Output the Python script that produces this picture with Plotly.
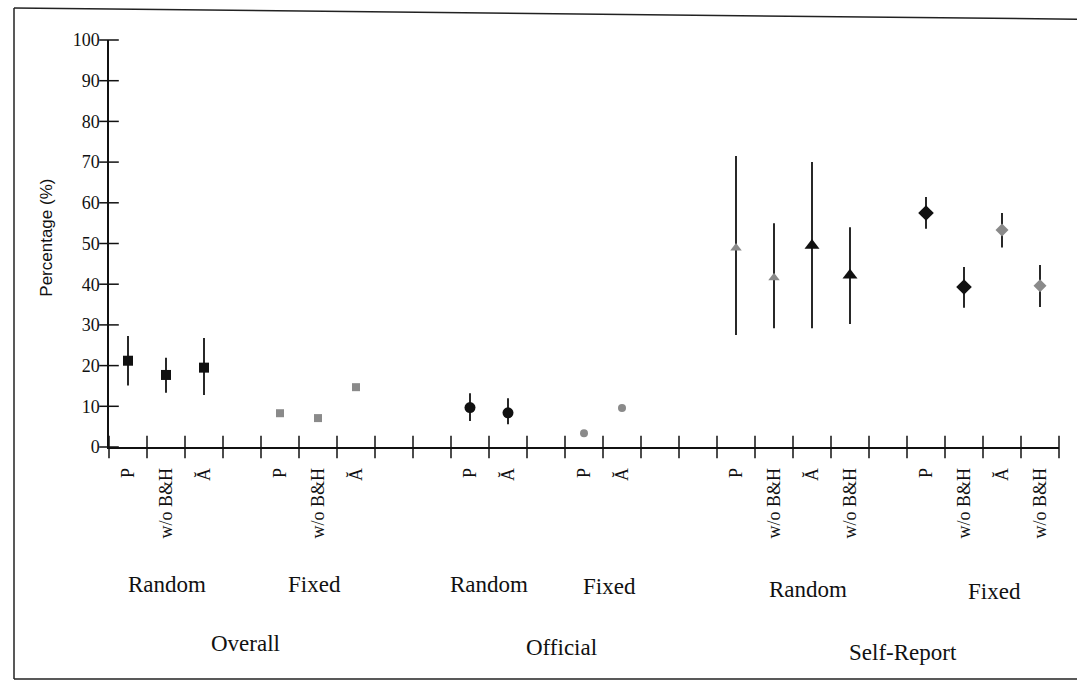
import plotly.graph_objects as go

# ---------------- data ----------------
# category slots along the x axis (empty labels are gaps between groups)
slot_keys = [
    "OR_P", "OR_W", "OR_A", "gap1",
    "OF_P", "OF_W", "OF_A", "gap2", "gap3",
    "FR_P", "FR_A", "gap4",
    "FF_P", "FF_A", "gap5", "gap6",
    "SR_P", "SR_W", "SR_A", "SR_W2", "gap7",
    "SF_P", "SF_W", "SF_A", "SF_W2",
]
slot_labels = [
    "P", "w/o B&H", "Ă", "",
    "P", "w/o B&H", "Ă", "", "",
    "P", "Ă", "",
    "P", "Ă", "", "",
    "P", "w/o B&H", "Ă", "w/o B&H", "",
    "P", "w/o B&H", "Ă", "w/o B&H",
]

# Overall - Random (black squares)
overall_random_keys = ["OR_P", "OR_W", "OR_A"]
overall_random_val = [21.2, 17.7, 19.5]
overall_random_lo = [15.1, 13.3, 12.8]
overall_random_hi = [27.3, 21.9, 26.8]

# Overall - Fixed (grey squares)
overall_fixed_keys = ["OF_P", "OF_W", "OF_A"]
overall_fixed_val = [8.3, 7.1, 14.7]

# Official - Random (black circles)
official_random_keys = ["FR_P", "FR_A"]
official_random_val = [9.7, 8.4]
official_random_lo = [6.4, 5.6]
official_random_hi = [13.2, 12.0]

# Official - Fixed (grey circles)
official_fixed_keys = ["FF_P", "FF_A"]
official_fixed_val = [3.4, 9.6]

# Self-Report - Random, P (grey triangles)
self_random_p_keys = ["SR_P", "SR_W"]
self_random_p_val = [48.9, 41.6]
self_random_p_lo = [27.5, 29.2]
self_random_p_hi = [71.5, 55.0]

# Self-Report - Random, A (black triangles)
self_random_a_keys = ["SR_A", "SR_W2"]
self_random_a_val = [49.5, 42.2]
self_random_a_lo = [29.2, 30.2]
self_random_a_hi = [70.0, 54.0]

# Self-Report - Fixed, P (black diamonds)
self_fixed_p_keys = ["SF_P", "SF_W"]
self_fixed_p_val = [57.5, 39.3]
self_fixed_p_lo = [53.6, 34.2]
self_fixed_p_hi = [61.4, 44.2]

# Self-Report - Fixed, A (grey diamonds)
self_fixed_a_keys = ["SF_A", "SF_W2"]
self_fixed_a_val = [53.3, 39.6]
self_fixed_a_lo = [49.0, 34.4]
self_fixed_a_hi = [57.5, 44.7]

y_ticks = [0, 10, 20, 30, 40, 50, 60, 70, 80, 90, 100]

level1_labels = ["Random", "Fixed", "Random", "Fixed", "Random", "Fixed"]
level2_labels = ["Overall", "Official", "Self-Report"]

# ---------------- layout helpers ----------------
SERIF = "Liberation Serif"
SANS = "Liberation Sans"
BLACK = "#111111"
GREY = "#8a8a8a"
n_slots = len(slot_keys)

# label placement (axis units along x, paper units along y)
level1_x = [1.53, 5.42, 10.0, 13.16, 18.4, 23.3]
level1_y = [-0.338, -0.338, -0.338, -0.343, -0.35, -0.356]
level2_x = [3.6, 11.9, 20.9]
level2_y = [-0.482, -0.492, -0.506]


def xpos(keys):
    return [slot_keys.index(k) + 0.5 for k in keys]


def err(val, lo, hi):
    return dict(type="data", symmetric=False,
                array=[h - v for v, h in zip(val, hi)],
                arrayminus=[v - l for v, l in zip(val, lo)],
                color=BLACK, thickness=1.8, width=0)


fig = go.Figure()


def add(keys, val, symbol, color, size, lo=None, hi=None):
    kw = {}
    if lo is not None:
        kw["error_y"] = err(val, lo, hi)
    fig.add_trace(go.Scatter(
        x=xpos(keys), y=val, mode="markers",
        marker=dict(symbol=symbol, color=color, size=size,
                    line=dict(width=0)),
        showlegend=False, cliponaxis=False, **kw))


add(overall_random_keys, overall_random_val, "square", BLACK, 10,
    overall_random_lo, overall_random_hi)
add(overall_fixed_keys, overall_fixed_val, "square", GREY, 8)
add(official_random_keys, official_random_val, "circle", BLACK, 11,
    official_random_lo, official_random_hi)
add(official_fixed_keys, official_fixed_val, "circle", GREY, 8)
add(self_random_p_keys, self_random_p_val, "triangle-up", GREY, 10,
    self_random_p_lo, self_random_p_hi)
add(self_random_a_keys, self_random_a_val, "triangle-up", BLACK, 13,
    self_random_a_lo, self_random_a_hi)
add(self_fixed_p_keys, self_fixed_p_val, "diamond", BLACK, 12,
    self_fixed_p_lo, self_fixed_p_hi)
add(self_fixed_a_keys, self_fixed_a_val, "diamond", GREY, 10,
    self_fixed_a_lo, self_fixed_a_hi)

# cross-shaped tick marks on both axes
boundaries = list(range(n_slots + 1))
fig.add_trace(go.Scatter(
    x=boundaries, y=[0] * len(boundaries), mode="markers",
    marker=dict(symbol="line-ns", size=16, color=BLACK,
                line=dict(width=1.5, color=BLACK)),
    showlegend=False, cliponaxis=False, hoverinfo="skip"))
fig.add_trace(go.Scatter(
    x=[0] * len(y_ticks), y=y_ticks, mode="markers",
    marker=dict(symbol="line-ew", size=14, color=BLACK,
                line=dict(width=1.5, color=BLACK)),
    showlegend=False, cliponaxis=False, hoverinfo="skip"))

# group labels
annotations = []
for lab, xx, yy in zip(level1_labels, level1_x, level1_y):
    annotations.append(dict(x=xx, y=yy, xref="x", yref="paper",
                            xanchor="center", yanchor="middle",
                            text=lab, showarrow=False,
                            font=dict(family=SERIF, size=23, color=BLACK)))
for lab, xx, yy in zip(level2_labels, level2_x, level2_y):
    annotations.append(dict(x=xx, y=yy, xref="x", yref="paper",
                            xanchor="center", yanchor="middle",
                            text=lab, showarrow=False,
                            font=dict(family=SERIF, size=23, color=BLACK)))
annotations.append(dict(x=-0.066, y=0.515, xref="paper", yref="paper",
                        xanchor="center", yanchor="middle",
                        text="Percentage (%)", textangle=-90, showarrow=False,
                        font=dict(family=SANS, size=17, color=BLACK)))

# outer frame of the scanned figure
shapes = [
    dict(type="line", xref="paper", yref="paper", x0=-0.1, y0=1.0786,
         x1=1.02, y1=1.051, line=dict(color="#222222", width=1.5)),
    dict(type="line", xref="paper", yref="paper", x0=-0.1, y0=1.0786,
         x1=-0.1, y1=-0.570, line=dict(color="#222222", width=1.5)),
    dict(type="line", xref="paper", yref="paper", x0=-0.1, y0=-0.570,
         x1=1.02, y1=-0.570, line=dict(color="#222222", width=1.5)),
]

fig.update_layout(
    width=1077, height=683,
    margin=dict(l=109, r=18, t=40, b=236),
    paper_bgcolor="white", plot_bgcolor="white",
    annotations=annotations, shapes=shapes,
    xaxis=dict(range=[0, n_slots], showgrid=False, zeroline=False,
               showline=True, linecolor=BLACK, linewidth=1.5,
               tickmode="array",
               tickvals=[i + 0.5 for i in range(n_slots)],
               ticktext=slot_labels, tickangle=-90,
               ticks="outside", ticklen=12, tickcolor="rgba(0,0,0,0)",
               tickfont=dict(family=SERIF, size=18, color=BLACK)),
    yaxis=dict(range=[0, 100], showgrid=False, zeroline=False,
               showline=True, linecolor=BLACK, linewidth=1.5,
               tickmode="array", tickvals=y_ticks,
               ticks="outside", ticklen=4, tickcolor="rgba(0,0,0,0)",
               tickfont=dict(family=SERIF, size=18, color=BLACK)),
)

fig.write_html("out.html")
